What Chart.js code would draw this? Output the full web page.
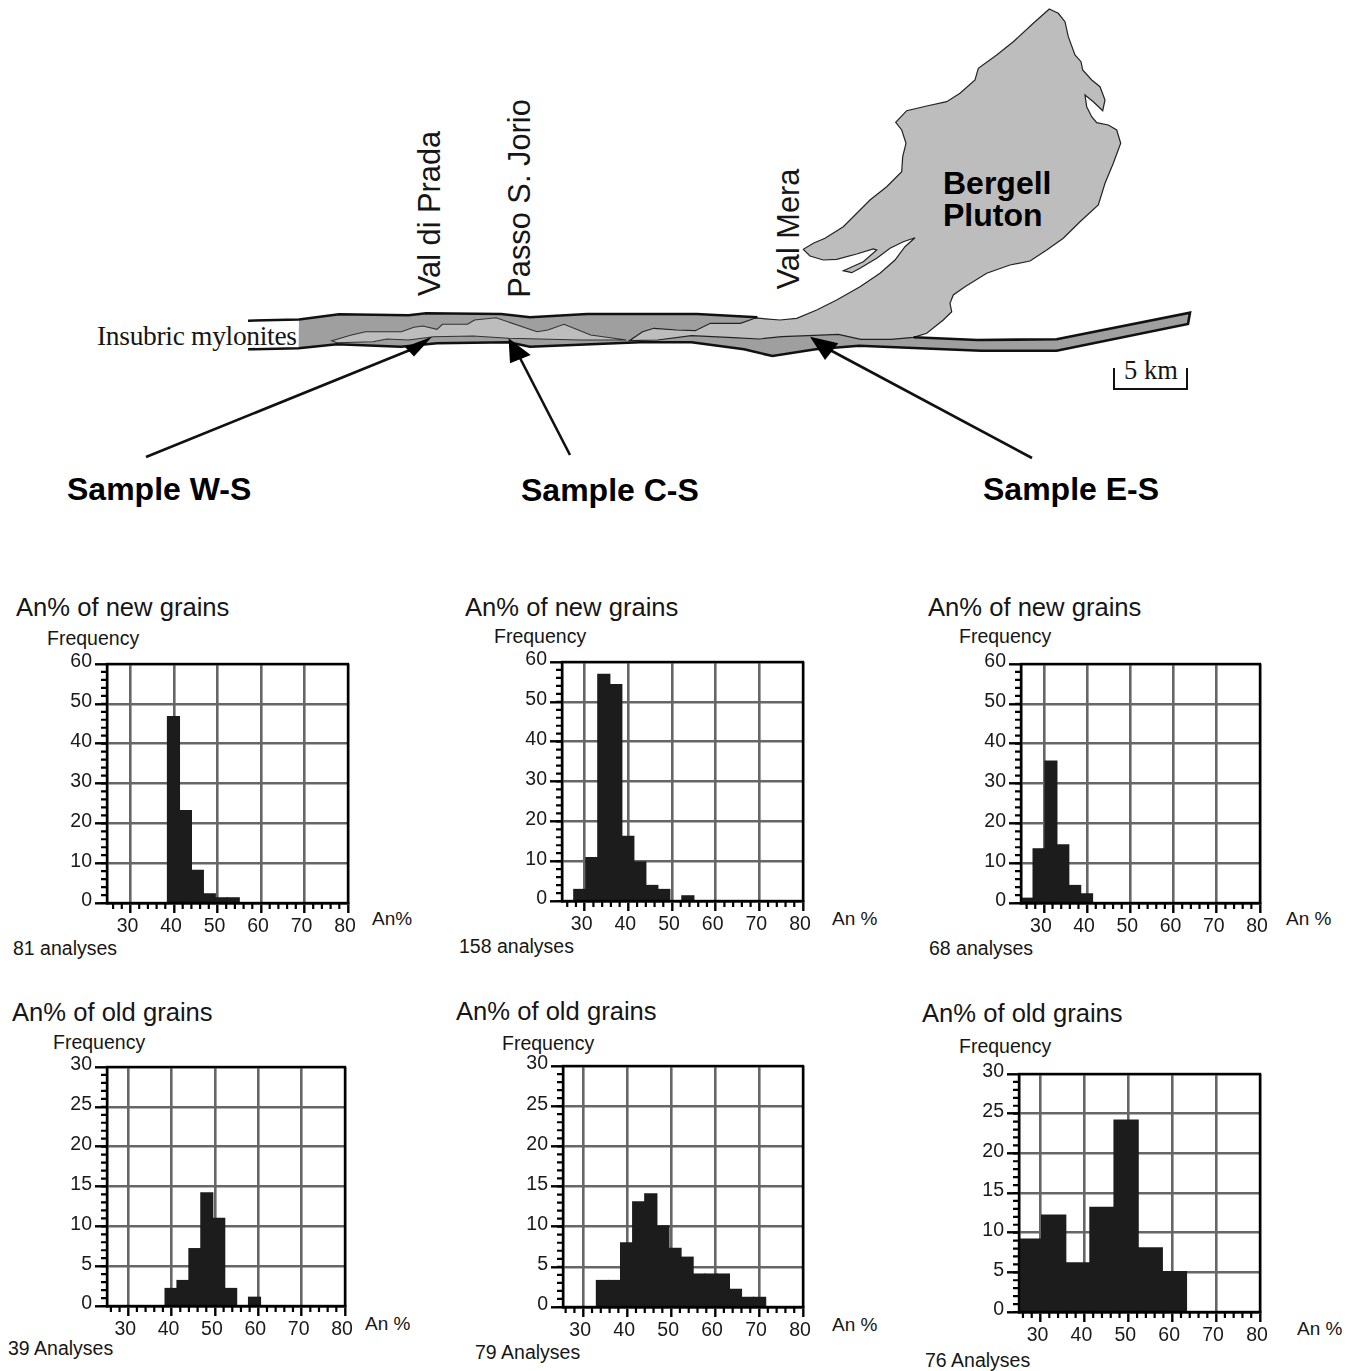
<!DOCTYPE html>
<html>
<head>
<meta charset="utf-8">
<title>An% of new and old grains</title>
<script src="https://cdn.jsdelivr.net/npm/chart.js@4"></script>
<style>
  html, body { margin: 0; padding: 0; background: #fff; }
  #page { position: relative; width: 1356px; height: 1371px; overflow: hidden; }
  #page svg { position: absolute; left: 0; top: 0; }
  #page canvas { position: absolute; }
  text { font-family: "Liberation Sans", Arial, sans-serif; fill: #161616; dominant-baseline: central; }
  .serif { font-family: "Liberation Serif", serif; }
  .big { font-weight: bold; font-size: 32px; fill: #000; }
  .vert { font-size: 30.8px; text-anchor: middle; }
</style>
</head>
<body>
<div id="page">
  <svg id="map" width="1356" height="1371">
    <!-- band of mylonites -->
    <polygon fill="#9f9f9f" points="299,319.5 339,314.3 408.6,315.3 426,313.3 501,314 530,317.3 587,314 640,314 697,314 757.4,317.3 913.6,337.3 977.5,340 1056.6,339.3 1190,312.7 1188,324 1056.6,350.7 981,350.7 859,345.7 815.7,349.3 772.4,356 744,349.3 691.5,342.3 640,342.3 530,346.7 508.6,342.3 437,343.3 401,346.7 337,344.3 298.6,348.3"/>
    <!-- Bergell pluton and its tongue -->
    <polygon fill="#bdbdbd" stroke="#222" stroke-width="1.2" points="1049.3,9 1058.3,13.3 1065,21.7 1068.3,36.7 1075,55 1081,61.7 1082.7,70 1091.7,80 1100,86.7 1105,100 1102.7,110.7 1093.3,101.7 1085,95 1086.7,106.7 1091.7,116.7 1096.7,122.7 1108.3,125 1116.7,130 1120.7,143.3 1113.3,163.3 1105,183.3 1098.3,205 1080,221.7 1063.3,238.3 1046.7,250 1030,261 1010,265 986.7,273.3 965,286.7 953.3,295 950,303.3 951.7,311.7 943.3,320 926.7,333.3 913.6,337.3 891,339.3 860.9,339.3 838.3,334.3 808,335.7 781.8,336.7 759.3,339 733,337.7 691.5,335.7 657.6,340 629.4,340.7 642.6,331.7 653.9,328.3 676.5,330 695.3,330.7 710.3,323.3 740.4,323.3 755.5,318 780,320 796.7,318.3 816.7,310 836.7,300 860,286.7 880,273.3 895,260 905,246.7 915,237.7 903.3,241.7 890,248.3 876.7,258.3 860,268.3 851.7,272.7 843.3,270.7 863.3,261.7 876.7,250 873.3,249 856.7,254 836.7,259.3 823.3,260 810,256 803.3,249.3 813.3,243.3 825,238.3 843.3,226.7 860,210 870,200 886.7,186.7 901.7,171.7 902.7,156.7 906,143.3 901.7,130 895.7,122.3 906.7,110.7 926.7,106 946.7,101.7 960,93.3 975,80 978.3,68.3 996.7,55 1013.3,41.7 1033.3,23.3"/>
    <polygon fill="#bdbdbd" stroke="#333" stroke-width="1.1" points="331.8,340.7 351.4,335 365.7,331.7 401.4,331.7 413.9,327.3 422.9,326 437,329.3 442.5,324.3 467.5,324.3 474.6,320 496,317.7 537,331.7 547.9,330 564,324.3 590.7,335 626.4,340 580,340 508.6,338.3 472.9,336 433.6,336.7 408.6,340 387,339 372.9,341.7 337,342.7"/>
    <!-- black edges of the band -->
    <g fill="none" stroke="#111" stroke-width="2.6">
      <polyline points="248,320.7 299,319.5 339,314.3 408.6,315.3 426,313.3 501,314 530,317.3 587,314 640,314 697,314 757.4,317.3"/>
      <polyline points="248,349.3 298.6,348.3 337,344.3 401,346.7 437,343.3 508.6,342.3 530,346.7 640,342.3 691.5,342.3 744,349.3 772.4,356 815.7,349.3 859,345.7 981,350.7 1056.6,350.7 1188,324 1190,312.7 1056.6,339.3 977.5,340 913.6,337.3"/>
    </g>
    <!-- arrows -->
    <g stroke="#111" stroke-width="2.6">
      <line x1="146" y1="457" x2="410" y2="350"/>
      <line x1="570" y1="455" x2="520" y2="358"/>
      <line x1="1032" y1="458" x2="830" y2="350"/>
    </g>
    <g fill="#000">
      <polygon points="432,336.7 405,347 414,356.5"/>
      <polygon points="508.6,338.3 510,363.3 530.7,355"/>
      <polygon points="810,336.7 825,360 838.3,343.3"/>
    </g>
    <!-- scale bar -->
    <polyline points="1114,368 1114,389 1187,389 1187,368" fill="none" stroke="#111" stroke-width="2"/>
    <text class="serif" x="1124" y="370" font-size="26.5">5 km</text>
    <text class="serif" x="97" y="335" font-size="27.5" textLength="200">Insubric mylonites</text>
    <text class="vert" transform="translate(429,213.5) rotate(-90)">Val di Prada</text>
    <text class="vert" transform="translate(519,198.5) rotate(-90)">Passo S. Jorio</text>
    <text class="vert" transform="translate(788,229) rotate(-90)">Val Mera</text>
    <text class="big" x="943" y="183">Bergell</text>
    <text class="big" x="943" y="215">Pluton</text>
    <text class="big" x="67" y="489">Sample W-S</text>
    <text class="big" x="521" y="490">Sample C-S</text>
    <text class="big" x="983" y="489">Sample E-S</text>
  </svg>
</div>
<script>
// bin centres (An %)
const centersNewW = [39.875, 42.625, 45.375, 48.125, 50.875, 53.625];
const centersNewC = [28.875, 31.625, 34.375, 37.125, 39.875, 42.625, 45.375, 48.125, 50.875, 53.625];
const centersNewE = [26.125, 28.875, 31.625, 34.375, 37.125, 39.875];
const centersOldW = [39.875, 42.625, 45.375, 48.125, 50.875, 53.625, 56.375, 59.125];
const centersOldC = [34.375, 37.125, 39.875, 42.625, 45.375, 48.125, 50.875, 53.625, 56.375, 59.125, 61.875, 64.625, 67.375, 70.125];
const centersOldE = [27.5, 33, 38.5, 44, 49.5, 55, 60.5];

// frequency per bin
const countsNewW = [46.8, 23.2, 8.2, 2.3, 1.3, 1.3];
const countsNewC = [2.9, 10.9, 56.9, 54.3, 16.2, 9.8, 3.9, 2.9, 0, 1.3];
const countsNewE = [1.2, 13.6, 35.6, 14.6, 4.4, 2.3];
const countsOldW = [2.2, 3.2, 7.2, 14.2, 11, 2.2, 0, 1.1];
const countsOldC = [3.3, 3.3, 8, 13.1, 14.1, 10.1, 7.3, 6.2, 4.1, 4.1, 4.1, 2.2, 1.2, 1.2];
const countsOldE = [9.2, 12.2, 6.2, 13.2, 24.2, 8.1, 5.1];

const xTicks = [30, 40, 50, 60, 70, 80];
const yTicksNew = [0, 10, 20, 30, 40, 50, 60];
const yTicksOld = [0, 5, 10, 15, 20, 25, 30];

const titleNew = "An% of new grains";
const titleOld = "An% of old grains";

// where each histogram sits on the page
const panels = [
  { centers: centersNewW, counts: countsNewW, yTicks: yTicksNew, yMinor: 2, xMin: 24.6, box: [107.3, 664, 348.3, 902.7],
    title: [titleNew, 16, 607], freq: [47, 638], note: ["81 analyses", 13, 948], unit: ["An%", 372, 918] },
  { centers: centersNewC, counts: countsNewC, yTicks: yTicksNew, yMinor: 2, xMin: 24.8, box: [561.7, 661.7, 802.3, 900.7],
    title: [titleNew, 465, 607], freq: [494, 636], note: ["158 analyses", 459, 946], unit: ["An %", 832, 918] },
  { centers: centersNewE, counts: countsNewE, yTicks: yTicksNew, yMinor: 2, xMin: 24.7, box: [1021.3, 664, 1260.3, 902.7],
    title: [titleNew, 928, 607], freq: [959, 636], note: ["68 analyses", 929, 948], unit: ["An %", 1286, 918] },
  { centers: centersOldW, counts: countsOldW, yTicks: yTicksOld, yMinor: 1, xMin: 25.1, box: [106.7, 1066.7, 345, 1305.7],
    title: [titleOld, 12, 1012], freq: [53, 1042], note: ["39 Analyses", 8, 1348], unit: ["An %", 365, 1323] },
  { centers: centersOldC, counts: countsOldC, yTicks: yTicksOld, yMinor: 1, xMin: 25.4, box: [563.3, 1066, 803.7, 1307.3],
    title: [titleOld, 456, 1011], freq: [502, 1043], note: ["79 Analyses", 475, 1352], unit: ["An %", 832, 1324] },
  { centers: centersOldE, counts: countsOldE, yTicks: yTicksOld, yMinor: 1, xMin: 25.1, box: [1019.3, 1074, 1260.3, 1312.3],
    title: [titleOld, 922, 1013], freq: [959, 1046], note: ["76 Analyses", 925, 1360], unit: ["An %", 1297, 1328] },
];

const PAD_LEFT = 60, PAD_TOP = 20, PAD_RIGHT = 30, PAD_BOTTOM = 40;
const page = document.getElementById("page");
const svg = document.getElementById("map");

function addText(str, x, y, size) {
  const el = document.createElementNS("http://www.w3.org/2000/svg", "text");
  el.setAttribute("x", x);
  el.setAttribute("y", y);
  el.setAttribute("font-size", size);
  el.textContent = str;
  svg.appendChild(el);
}

// minor ticks and the black frame, on top of the bars
const frameAndMinorTicks = {
  id: "frameAndMinorTicks",
  afterDraw(chart, args, opts) {
    const { ctx, chartArea: a, scales } = chart;
    ctx.save();
    ctx.strokeStyle = "#000";
    ctx.lineWidth = 2.2;
    ctx.beginPath();
    for (let v = 26; v < 80; v += 2) {
      if (v % 10 === 0) continue;
      const px = scales.x.getPixelForValue(v);
      ctx.moveTo(px, a.bottom);
      ctx.lineTo(px, a.bottom + 6);
    }
    const yMax = scales.y.max;
    for (let v = 0; v < yMax; v += opts.yMinor) {
      const py = scales.y.getPixelForValue(v);
      ctx.moveTo(a.left, py);
      ctx.lineTo(a.left - 6, py);
    }
    ctx.stroke();
    ctx.lineWidth = 2.4;
    ctx.strokeRect(a.left, a.top, a.right - a.left, a.bottom - a.top);
    ctx.restore();
  },
};

function drawPanel(p) {
  const [l, t, r, b] = p.box;
  const canvas = document.createElement("canvas");
  canvas.width = Math.round(r - l) + PAD_LEFT + PAD_RIGHT;
  canvas.height = Math.round(b - t) + PAD_TOP + PAD_BOTTOM;
  canvas.style.left = Math.round(l) - PAD_LEFT + "px";
  canvas.style.top = Math.round(t) - PAD_TOP + "px";
  page.appendChild(canvas);

  const font = { family: "'Liberation Sans', Arial, sans-serif", size: 19.5 };
  new Chart(canvas, {
    type: "bar",
    data: {
      datasets: [
        {
          data: p.centers.map((c, i) => ({ x: c, y: p.counts[i] })),
          backgroundColor: "#1c1c1c",
          borderWidth: 0,
          inflateAmount: 0.6, // no seams between neighbouring bins
          barPercentage: 1,
          categoryPercentage: 1,
        },
      ],
    },
    options: {
      responsive: false,
      animation: false,
      layout: { padding: { left: 0, top: PAD_TOP, right: PAD_RIGHT, bottom: 0 } },
      plugins: {
        legend: { display: false },
        title: { display: false },
        tooltip: { enabled: false },
        frameAndMinorTicks: { yMinor: p.yMinor },
      },
      scales: {
        x: {
          type: "linear",
          offset: false,
          min: p.xMin,
          max: 80,
          afterBuildTicks: (s) => { s.ticks = xTicks.map((v) => ({ value: v })); },
          afterFit: (s) => { s.height = PAD_BOTTOM; },
          grid: { color: "#666", lineWidth: 2.6, tickColor: "#000", tickWidth: 2.4, tickLength: 10, offset: false },
          border: { color: "#000", width: 2.4 },
          ticks: { color: "#1a1a1a", font, padding: 2, labelOffset: -3, maxRotation: 0, autoSkip: false, callback: (v) => String(v) },
        },
        y: {
          min: 0,
          max: p.yTicks[p.yTicks.length - 1],
          afterBuildTicks: (s) => { s.ticks = p.yTicks.map((v) => ({ value: v })); },
          afterFit: (s) => { s.width = PAD_LEFT; },
          grid: { color: "#666", lineWidth: 2.6, tickColor: "#000", tickWidth: 2.4, tickLength: 12 },
          border: { color: "#000", width: 2.4 },
          ticks: { color: "#1a1a1a", font, padding: 3, labelOffset: -2, autoSkip: false, callback: (v) => String(v) },
        },
      },
    },
    plugins: [frameAndMinorTicks],
  });

  addText(p.title[0], p.title[1], p.title[2], 25.6);
  addText("Frequency", p.freq[0], p.freq[1], 19.5);
  addText(p.note[0], p.note[1], p.note[2], 19.5);
  addText(p.unit[0], p.unit[1], p.unit[2], 19);
}

panels.forEach(drawPanel);
</script>
</body>
</html>
